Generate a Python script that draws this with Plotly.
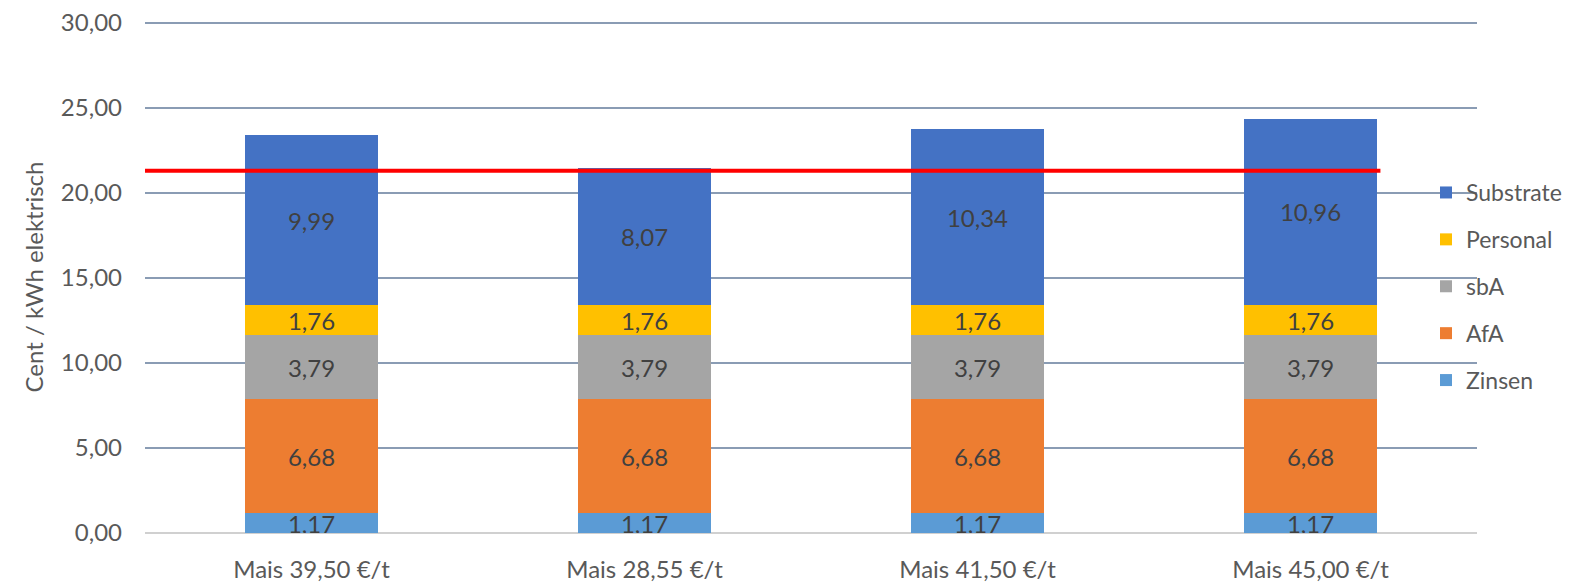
import plotly.graph_objects as go

# Stacked cost components per maize price scenario (Cent / kWh elektrisch)
categories = ["Mais 39,50 €/t", "Mais 28,55 €/t", "Mais 41,50 €/t", "Mais 45,00 €/t"]
zinsen = [1.17, 1.17, 1.17, 1.17]
afa = [6.68, 6.68, 6.68, 6.68]
sba = [3.79, 3.79, 3.79, 3.79]
personal = [1.76, 1.76, 1.76, 1.76]
substrate = [9.99, 8.07, 10.34, 10.96]

# Reference level drawn as a red horizontal line
reference_value = 21.3

series = [
    ("Zinsen", zinsen, "#5B9BD5"),
    ("AfA", afa, "#ED7D31"),
    ("sbA", sba, "#A5A5A5"),
    ("Personal", personal, "#FFC000"),
    ("Substrate", substrate, "#4472C4"),
]

FONT = "Lato"
TEXT_GREY = "#595959"
LABEL_GREY = "#404040"
FS = 24


def de(v):
    return f"{v:.2f}".replace(".", ",")


fig = go.Figure()
n = len(series)
for i, (name, vals, color) in enumerate(series):
    fig.add_trace(go.Bar(
        name=name,
        x=categories,
        y=vals,
        marker=dict(color=color, line=dict(width=0)),
        text=[de(v) for v in vals],
        textposition="inside",
        insidetextanchor="middle",
        textangle=0,
        constraintext="none",
        textfont=dict(family=FONT, size=FS, color=LABEL_GREY),
        legendgroup=name,
        legendrank=n - i,  # top segment listed first
        hoverinfo="skip",
    ))

# red line across the chart, ending at the right edge of the last bar
fig.add_trace(go.Scatter(
    x=[-0.5, 3.21],
    y=[reference_value, reference_value],
    mode="lines",
    line=dict(color="#FF0000", width=4),
    showlegend=False,
    hoverinfo="skip",
    xaxis="x2",
))

fig.update_layout(
    width=1577,
    height=585,
    barmode="stack",
    bargap=0.6,
    separators=",.",
    paper_bgcolor="white",
    plot_bgcolor="white",
    margin=dict(l=145, r=100, t=21, b=52, autoexpand=False),
    font=dict(family=FONT, size=FS, color=TEXT_GREY),
    showlegend=True,
    legend=dict(
        x=0.9617, xanchor="left",
        y=0.707, yanchor="top",
        traceorder="grouped",
        tracegroupgap=14,
        bgcolor="rgba(0,0,0,0)",
        font=dict(family=FONT, size=23, color=TEXT_GREY),
        itemwidth=30,
    ),
    xaxis=dict(
        showgrid=False,
        showline=False,
        zeroline=False,
        ticks="",
        automargin=False,
        ticklabelstandoff=20,
        tickfont=dict(family=FONT, size=FS, color=TEXT_GREY),
        range=[-0.5, 3.5],
    ),
    xaxis2=dict(
        overlaying="x",
        range=[-0.5, 3.5],
        visible=False,
    ),
    yaxis=dict(
        range=[0, 30.1],
        tickvals=[0, 5, 10, 15, 20, 25, 30],
        tickformat=".2f",
        showgrid=True,
        gridcolor="#8A9CB4",
        gridwidth=1.5,
        zeroline=True,
        zerolinecolor="#D0D0D0",
        zerolinewidth=1.5,
        showline=False,
        ticks="",
        automargin=False,
        ticklabelstandoff=22,
        tickfont=dict(family=FONT, size=FS, color=TEXT_GREY),
        title=dict(text="Cent / kWh elektrisch", standoff=10,
                   font=dict(family=FONT, size=FS, color=TEXT_GREY)),
    ),
)

fig.write_html("out.html")
